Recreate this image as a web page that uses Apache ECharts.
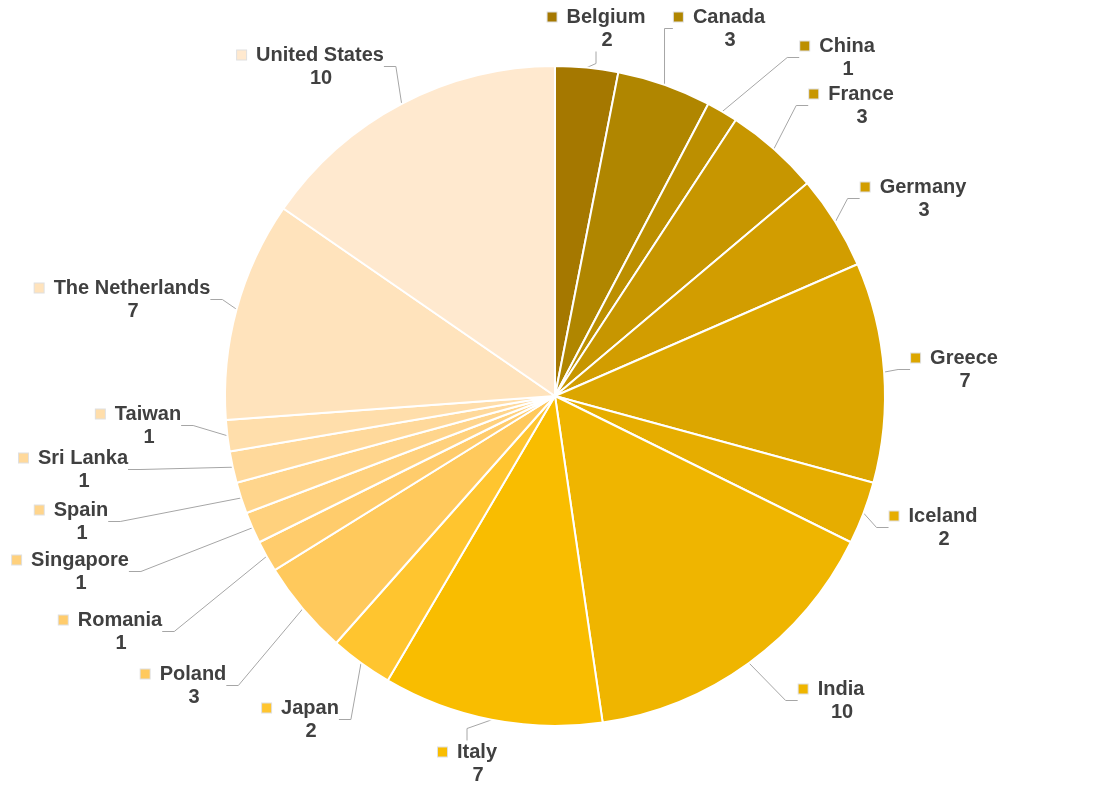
<!DOCTYPE html>
<html><head><meta charset="utf-8">
<script src="https://cdn.jsdelivr.net/npm/echarts@6/dist/echarts.min.js"></script>
<style>html,body{margin:0;padding:0;background:#fff}#c{width:1110px;height:793px}</style>
</head><body><div id="c"></div>
<script>
const categories = ['Belgium','Canada','China','France','Germany','Greece','Iceland','India','Italy','Japan','Poland','Romania','Singapore','Spain','Sri Lanka','Taiwan','The Netherlands','United States'];
const values = [2,3,1,3,3,7,2,10,7,2,3,1,1,1,1,1,7,10];
const colors = ['#A57800','#B08600','#BC8F00','#C79600','#D29D00','#DCA600','#E6AD00','#EFB500','#F9BD00','#FFC52F','#FFC95C','#FFCC6C','#FFD17D','#FFD58C','#FFD99B','#FFDEAB','#FFE3BC','#FFE9CF'];

// label placement (layout only): centre of the name line
const labelPos = [[607,17],[730,17],[848,46],[862,94],[924,187],[965,358],[944,516],[842,689],[478,752],[311,708],[194,674],[121,620],[81,560],[82,510],[84,458],[149,414],[133,288],[321,55]];

const data = categories.map((c,i)=>({
  name:c, value:values[i],
  itemStyle:{color:colors[i]},
  label:{rich:{m:{backgroundColor:colors[i]}}}
}));

const F = 'Liberation Sans';
const chart = echarts.init(document.getElementById('c'));
chart.setOption({
  animation:false,
  series:[{
    type:'pie',
    center:[555,396],
    radius:[0,330],
    startAngle:90,
    clockwise:true,
    data:data,
    itemStyle:{borderColor:'#fff',borderWidth:2},
    label:{
      show:true,
      position:'outside',
      formatter: p => '{m|}{g|}{b|'+p.name+'}\n{p|}{v|'+p.value+'}',
      align:'center',
      lineHeight:23,
      rich:{
        m:{width:9,height:9,borderColor:'#e0e0e0',borderWidth:1,align:'center'},
        g:{width:10,align:'center'},
        p:{width:21,align:'center'},
        b:{fontFamily:F,fontWeight:'bold',fontSize:20,color:'#404040',lineHeight:23,align:'center'},
        v:{fontFamily:F,fontWeight:'bold',fontSize:20,color:'#404040',lineHeight:23,align:'center'}
      }
    },
    labelLine:{show:true,length:12,length2:12,lineStyle:{color:'#a6a6a6',width:1}},
    labelLayout: p => {
      const q = labelPos[p.dataIndex];
      return {x:q[0]-10.5, y:q[1]+11.5, align:'center', verticalAlign:'middle'};
    }
  }]
});
</script></body></html>
